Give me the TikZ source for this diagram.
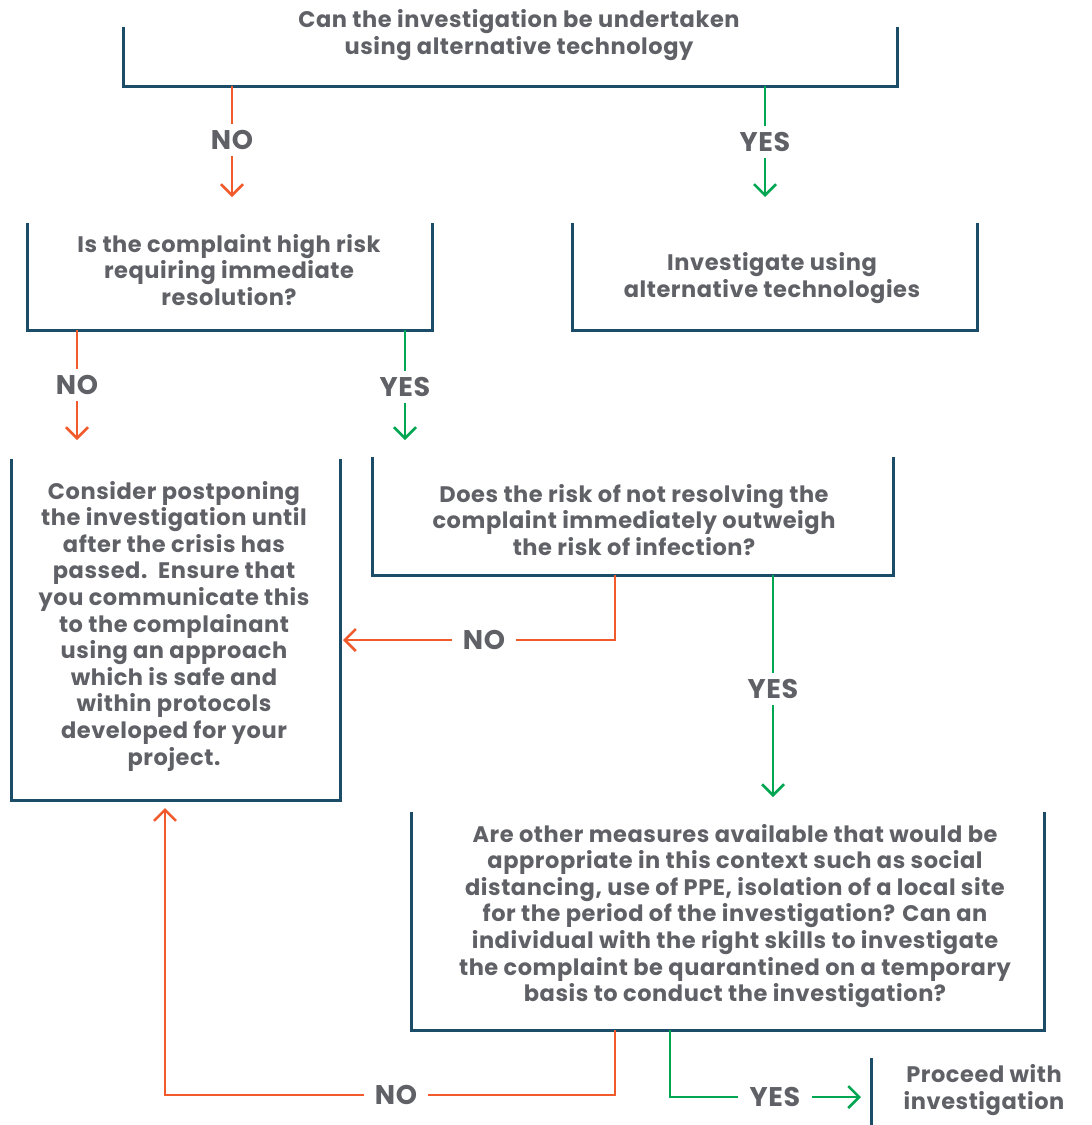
\documentclass[tikz,border=0pt]{standalone}
\usepackage{fontspec}
\setmainfont{Poppins}[LetterSpace=2.5]
\usetikzlibrary{arrows.meta}
\definecolor{frameC}{HTML}{1B4D68}
\definecolor{noC}{HTML}{F15A2B}
\definecolor{yesC}{HTML}{00A651}
\definecolor{txtC}{HTML}{606167}
\tikzset{
  boxn/.style={draw=none,inner sep=0pt,outer sep=0pt},
  frame/.style={draw=frameC,line width=3pt},
  txt/.style={text=txtC,align=center,font=\fontsize{22.5}{26.6}\selectfont\bfseries,inner sep=0pt},
  lbl/.style={text=txtC,font=\fontsize{27}{30}\selectfont\bfseries,inner xsep=11pt,inner ysep=6pt},
  nol/.style={draw=noC,line width=2.5pt},
  yesl/.style={draw=yesC,line width=2.5pt},
  tip/.style={-{Straight Barb[length=11pt,width=22pt,line width=2.5pt]}}
}
\begin{document}
\begin{tikzpicture}[x=1pt,y=-1pt]
\useasboundingbox (0,0) rectangle (1092,1125);
% boxes
\node[boxn,minimum width=774pt,minimum height=58pt] (b1) at (510,57) {};
\node[boxn,minimum width=405pt,minimum height=106pt] (b2) at (229.5,277) {};
\node[boxn,minimum width=405pt,minimum height=106pt] (b3) at (774.5,277) {};
\node[boxn,minimum width=329pt,minimum height=340pt] (b4) at (175.5,630) {};
\node[boxn,minimum width=521pt,minimum height=117pt] (b5) at (632.5,516.5) {};
\node[boxn,minimum width=633pt,minimum height=217pt] (b6) at (727.5,921.5) {};
\node[boxn,minimum width=0pt,minimum height=67pt] (b7) at (871,1091.5) {};
\foreach \b in {b1,b2,b3,b4,b5,b6}{
  \draw[frame,line cap=rect] (\b.north west) -- (\b.south west) -- (\b.south east) -- (\b.north east);
}
\draw[frame] (b7.north) -- (b7.south);
% texts
\node[txt] (t1) at (519,35) {Can the investigation be undertaken\\using alternative technology};
\node[txt] (t2) at (229,270) {Is the complaint high risk\\requiring immediate\\resolution?};
\node[txt] (t3) at (772,278) {Investigate using\\alternative technologies};
\node[txt] (t4) at (174,626) {Consider postponing\\the investigation until\\after the crisis has\\passed.\ \ Ensure that\\you communicate this\\to the complainant\\using an approach\\which is safe and\\within protocols\\developed for your\\project.};
\node[txt] (t5) at (634,520) {Does the risk of not resolving the\\complaint immediately outweigh\\the risk of infection?};
\node[txt] (t6) at (735,916) {Are other measures available that would be\\appropriate in this context such as social\\distancing, use of PPE, isolation of a local site\\for the period of the investigation? Can an\\individual with the right skills to investigate\\the complaint be quarantined on a temporary\\basis to conduct the investigation?};
\node[txt] (t7) at (984,1090) {Proceed with\\investigation};
% labels
\node[lbl] (n1) at (232,140) {NO};
\node[lbl] (y1) at (765,142) {YES};
\node[lbl] (n2) at (77,385) {NO};
\node[lbl] (y2) at (405,387) {YES};
\node[lbl] (n3) at (484,640) {NO};
\node[lbl] (y3) at (773,689) {YES};
\node[lbl] (n4) at (396,1095) {NO};
\node[lbl] (y4) at (775,1097) {YES};
\coordinate (k1) at (615,640);
\coordinate (k2) at (615,1095);
\coordinate (k3) at (165,1095);
\coordinate (k4) at (670,1097);
% connectors
\draw[nol] (b1.south -| n1) -- (n1);
\draw[nol,tip,shorten >=27pt] (n1) -- (b2.north -| n1);
\draw[yesl] (b1.south -| y1) -- (y1);
\draw[yesl,tip,shorten >=27pt] (y1) -- (b3.north -| y1);
\draw[nol] (b2.south -| n2) -- (n2);
\draw[nol,tip,shorten >=20pt] (n2) -- (b4.north -| n2);
\draw[yesl] (b2.south -| y2) -- (y2);
\draw[yesl,tip,shorten >=18pt] (y2) -- (b5.north -| y2);
\draw[nol] (b5.south -| k1) -- (k1) -- (n3);
\draw[nol,tip,shorten >=3pt] (n3) -- (b4.east |- n3);
\draw[yesl] (b5.south -| y3) -- (y3);
\draw[yesl,tip,shorten >=16pt] (y3) -- (b6.north -| y3);
\draw[nol] (b6.south -| k2) -- (k2) -- (n4);
\draw[nol,tip,shorten >=8pt] (n4) -- (k3) -- (b4.south -| k3);
\draw[yesl] (b6.south -| k4) -- (k4) -- (y4);
\draw[yesl,tip,shorten >=10pt] (y4) -- (b7.west |- y4);
\end{tikzpicture}
\end{document}
